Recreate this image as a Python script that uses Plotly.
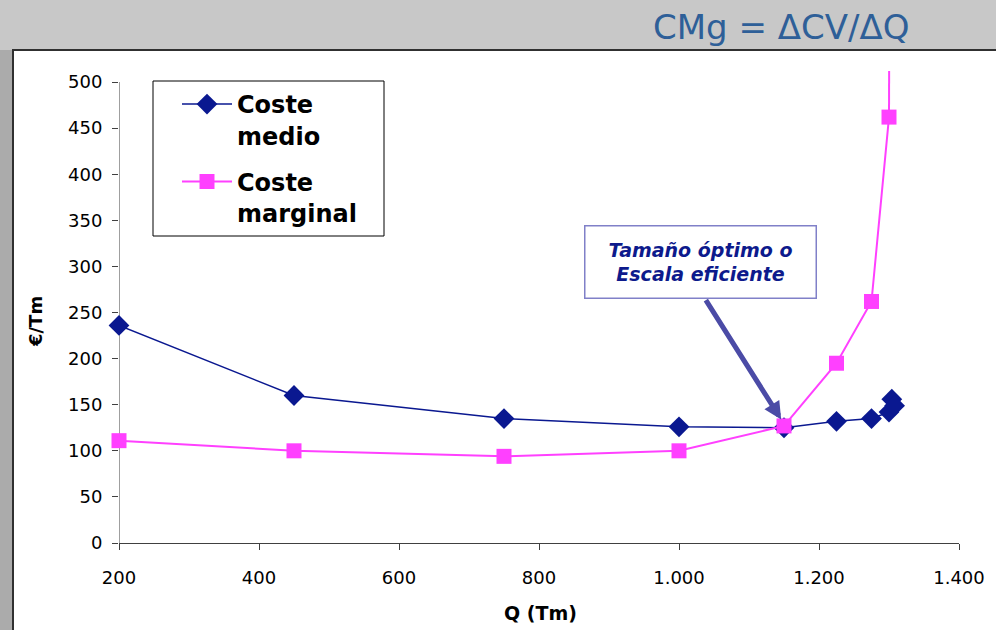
import plotly.graph_objects as go

# ---- data ----
q_medio = [200, 450, 750, 1000, 1150, 1225, 1275, 1300, 1304, 1308]
coste_medio = [236, 160, 135, 126, 125, 132, 135, 142, 156, 149]

q_marginal = [200, 450, 750, 1000, 1150, 1225, 1275, 1300]
coste_marginal = [111, 100, 94, 100, 127, 195, 262, 462]
# continuation of the marginal curve beyond the top of the chart
q_marginal_tail = [1300, 1304]
coste_marginal_tail = [462, 1500]

x_tickvals = [200, 400, 600, 800, 1000, 1200, 1400]
x_ticktext = ["200", "400", "600", "800", "1.000", "1.200", "1.400"]
y_tickvals = [0, 50, 100, 150, 200, 250, 300, 350, 400, 450, 500]

BLUE = "#0a1890"
PINK = "#ff40ff"
FONT = "DejaVu Sans"

fig = go.Figure()
fig.add_trace(go.Scatter(
    x=q_medio, y=coste_medio, mode="lines+markers",
    name="<b>Coste<br>medio</b>", legendgroup="a",
    line=dict(color=BLUE, width=1.5),
    marker=dict(symbol="diamond", size=16, color=BLUE),
    cliponaxis=False,
))
fig.add_trace(go.Scatter(
    x=q_marginal_tail, y=coste_marginal_tail, mode="lines",
    showlegend=False, line=dict(color=PINK, width=2), hoverinfo="skip",
))
fig.add_trace(go.Scatter(
    x=q_marginal, y=coste_marginal, mode="lines+markers",
    name="<b>Coste<br>marginal</b>", legendgroup="b",
    line=dict(color=PINK, width=2),
    marker=dict(symbol="square", size=15, color=PINK),
    cliponaxis=False,
))

# geometry helpers (plot area: 119..959 px wide, 71..543 px tall)
L, R, T, B = 119, 37, 71, 87
W, H = 996, 630
PW, PH = W - L - R, H - T - B


def px_x(px):
    return (px - L) / PW


def px_y(py):
    return (H - B - py) / PH


shapes = [
    dict(type="rect", xref="paper", yref="paper",
         x0=px_x(-10), x1=px_x(1030), y0=px_y(680), y1=px_y(-10),
         fillcolor="#c8c8c8", line=dict(width=0), layer="below"),
    dict(type="rect", xref="paper", yref="paper",
         x0=px_x(-10), x1=px_x(12), y0=px_y(680), y1=px_y(50),
         fillcolor="#ababab", line=dict(width=0), layer="below"),
    # white panel with dark frame
    dict(type="rect", xref="paper", yref="paper",
         x0=px_x(13), x1=px_x(1030), y0=px_y(680), y1=px_y(50),
         fillcolor="white", line=dict(color="#303030", width=2), layer="below"),
    # y axis line from 0 to 500
    dict(type="line", xref="x", yref="y", x0=200, x1=200, y0=0, y1=500,
         line=dict(color="#404040", width=1), layer="below"),
    # legend frame
    dict(type="rect", xref="paper", yref="paper",
         x0=px_x(153), x1=px_x(384), y0=px_y(236), y1=px_y(81),
         fillcolor="white", line=dict(color="black", width=1), layer="below"),
]

annotations = [
    dict(text="CMg = ΔCV/ΔQ", xref="paper", yref="paper",
         x=px_x(912), y=px_y(27), xanchor="right", yanchor="middle",
         showarrow=False, font=dict(family=FONT, size=34, color="#2e5f98")),
    dict(text="<b>€/Tm</b>", xref="paper", yref="paper",
         x=px_x(35), y=px_y(322), textangle=-90, showarrow=False,
         xanchor="center", yanchor="middle",
         font=dict(family=FONT, size=18, color="black")),
    dict(text="<b>Q (Tm)</b>", xref="paper", yref="paper",
         x=px_x(540), y=px_y(613), showarrow=False,
         xanchor="center", yanchor="middle",
         font=dict(family=FONT, size=19, color="black")),
    # arrow
    dict(text="", x=1146, y=134, xref="x", yref="y",
         ax=1037, ay=265, axref="x", ayref="y",
         showarrow=True, arrowhead=2, arrowsize=0.7, arrowwidth=5,
         arrowcolor="#4b4ba6"),
    # callout box
    dict(text="<b><i>Tamaño óptimo o<br>Escala eficiente</i></b>",
         x=1031, y=305, xref="x", yref="y", showarrow=False,
         xanchor="center", yanchor="middle",
         width=228, height=69, bgcolor="white",
         bordercolor="#8080c8", borderwidth=1.5,
         font=dict(family=FONT, size=19, color="#0d1a8c")),
]

fig.update_layout(
    width=W, height=H,
    margin=dict(l=L, r=R, t=T, b=B),
    paper_bgcolor="#c8c8c8", plot_bgcolor="rgba(0,0,0,0)",
    font=dict(family=FONT, size=18, color="black"),
    shapes=shapes, annotations=annotations,
    showlegend=True,
    legend=dict(x=px_x(177), y=px_y(82), xanchor="left", yanchor="top",
                bgcolor="rgba(0,0,0,0)", borderwidth=0,
                font=dict(family=FONT, size=24, color="black"),
                valign="top", tracegroupgap=12, traceorder="grouped",
                itemwidth=50),
    xaxis=dict(range=[200, 1400], tickvals=x_tickvals, ticktext=x_ticktext,
               showgrid=False, zeroline=False, showline=True,
               linecolor="#404040", linewidth=1,
               ticks="outside", ticklen=6, tickcolor="#404040",
               ticklabelstandoff=12,
               tickfont=dict(family=FONT, size=18, color="black")),
    yaxis=dict(range=[0, 512], tickvals=y_tickvals,
               showgrid=False, zeroline=False, showline=False,
               ticks="outside", ticklen=6, tickcolor="#404040",
               ticklabelstandoff=6,
               tickfont=dict(family=FONT, size=18, color="black")),
)

fig.write_html("out.html",
               config={"displayModeBar": False},
               post_script="document.body.style.margin='0';"
                           "document.body.style.padding='0';"
                           "document.body.style.overflow='hidden';")
